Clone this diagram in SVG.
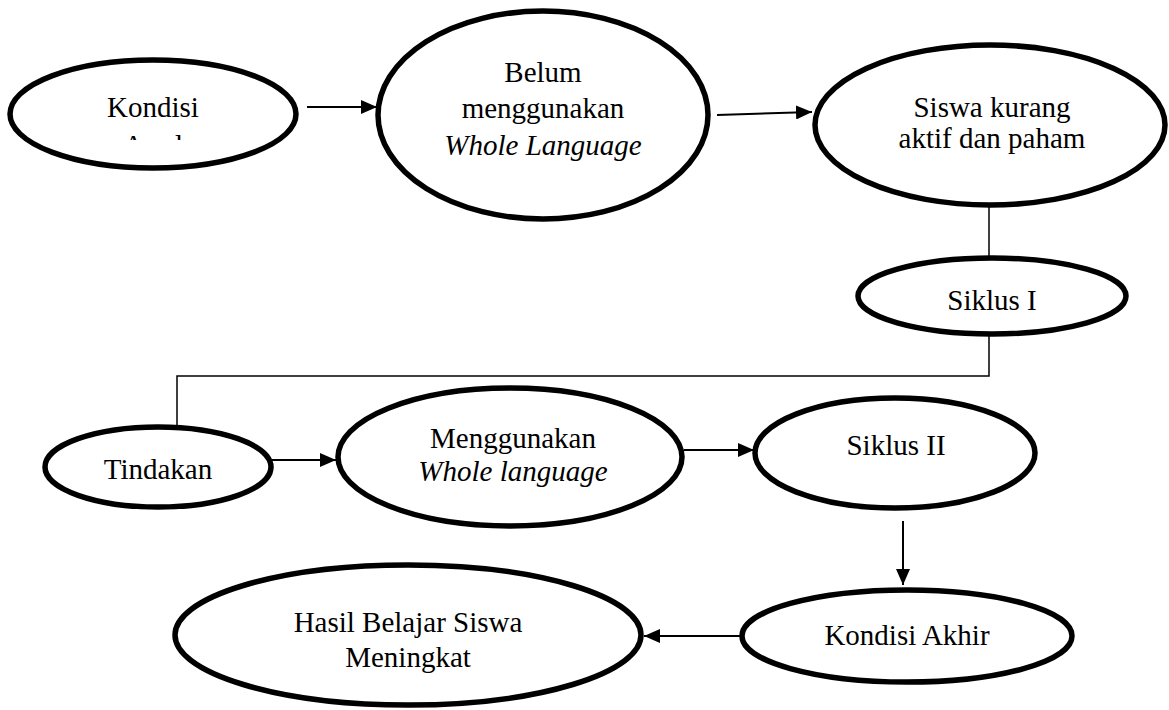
<svg xmlns="http://www.w3.org/2000/svg" width="1169" height="710" viewBox="0 0 1169 710">
<style>
.node{fill:#fff;stroke:#000;stroke-width:5.5}
.t{font-family:"Liberation Serif","Times New Roman",serif;font-size:29px;fill:#000;text-anchor:middle}
.i{font-style:italic}
.c{stroke:#000;stroke-width:1.5;fill:none}
.a{stroke:#000;stroke-width:2;fill:none;marker-end:url(#ah)}
</style>
<defs>
<marker id="ah" markerUnits="userSpaceOnUse" markerWidth="16" markerHeight="14" viewBox="0 0 16 14" refX="16" refY="7" orient="auto">
<path d="M0,0 L16,7 L0,14 Z" fill="#000"/>
</marker>
<clipPath id="clipAwal"><rect x="0" y="0" width="400" height="140"/></clipPath>
</defs>
<rect width="1169" height="710" fill="#fff"/>
<g id="connectors">
<line class="a" x1="307" y1="107" x2="377" y2="107"/>
<line class="a" x1="717" y1="115" x2="812" y2="112"/>
<line class="c" x1="989" y1="205" x2="989" y2="258"/>
<polyline class="c" points="989,334 989,376 177,376 177,427"/>
<line class="a" x1="272" y1="460" x2="336" y2="460"/>
<line class="a" x1="684" y1="450" x2="754" y2="450"/>
<line class="a" x1="903" y1="521" x2="903" y2="585"/>
<line class="a" x1="742" y1="636" x2="644" y2="636"/>
</g>
<g id="kondisi-awal">
<ellipse class="node" cx="153" cy="114" rx="143" ry="54"/>
<text class="t" x="153" y="117">Kondisi</text>
<text class="t" x="153" y="155" clip-path="url(#clipAwal)">Awal</text>
</g>
<g id="belum">
<ellipse class="node" cx="543" cy="115" rx="165" ry="104"/>
<text class="t" x="543" y="82">Belum</text>
<text class="t" x="543" y="118">menggunakan</text>
<text class="t i" x="543" y="155">Whole Language</text>
</g>
<g id="siswa-kurang">
<ellipse class="node" cx="990" cy="125" rx="175" ry="80"/>
<text class="t" x="992" y="117">Siswa kurang</text>
<text class="t" x="992" y="148">aktif dan paham</text>
</g>
<g id="siklus-1">
<ellipse class="node" cx="992" cy="296" rx="134" ry="38"/>
<text class="t" x="992" y="310">Siklus I</text>
</g>
<g id="tindakan">
<ellipse class="node" cx="158" cy="467" rx="113" ry="40"/>
<text class="t" x="158" y="479">Tindakan</text>
</g>
<g id="menggunakan">
<ellipse class="node" cx="510" cy="457" rx="172" ry="69"/>
<text class="t" x="513" y="448">Menggunakan</text>
<text class="t i" x="513" y="481">Whole language</text>
</g>
<g id="siklus-2">
<ellipse class="node" cx="895" cy="453" rx="140" ry="55"/>
<text class="t" x="896" y="455">Siklus II</text>
</g>
<g id="kondisi-akhir">
<ellipse class="node" cx="907" cy="636" rx="165" ry="46"/>
<text class="t" x="907" y="645">Kondisi Akhir</text>
</g>
<g id="hasil">
<ellipse class="node" cx="408" cy="635" rx="233" ry="70"/>
<text class="t" x="408" y="632">Hasil Belajar Siswa</text>
<text class="t" x="408" y="667">Meningkat</text>
</g>
</svg>
